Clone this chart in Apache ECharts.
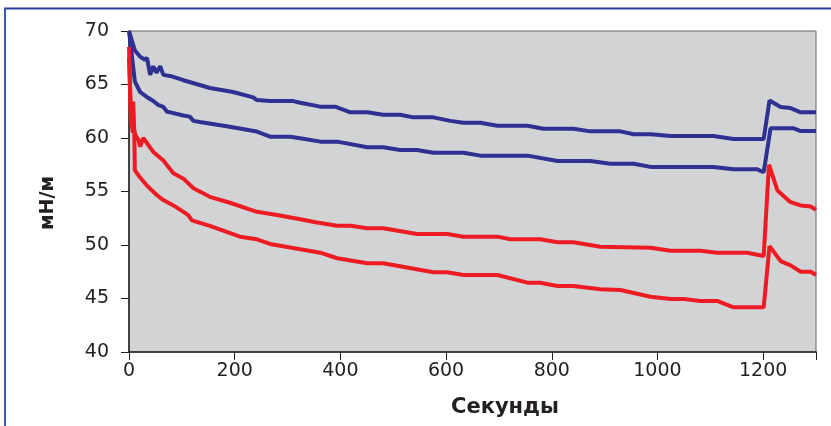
<!DOCTYPE html>
<html><head><meta charset="utf-8">
<script src="https://cdn.jsdelivr.net/npm/echarts@6/dist/echarts.min.js"></script>
<style>html,body{margin:0;padding:0;background:#fff}#c{width:831px;height:426px}</style>
</head><body><div id="c"></div>
<script>
const xTicks = [0, 200, 400, 600, 800, 1000, 1200];
const yTicks = [40, 45, 50, 55, 60, 65, 70];
const xTitle = 'Секунды';
const yTitle = 'мН/м';

const blueUpper = [[0,70],[11,68.2],[21,67.6],[30,67.3],[34,67.5],[40,65.9],[46,66.7],[52,66.1],[59,66.7],[65,65.9],[78,65.8],[103,65.4],[134,64.95],[153,64.67],[197,64.3],[235,63.8],[242,63.55],[267,63.45],[311,63.45],[324,63.3],[362,62.93],[390,62.93],[419,62.4],[451,62.4],[481,62.18],[513,62.18],[538,61.93],[576,61.93],[608,61.6],[633,61.43],[665,61.43],[697,61.15],[754,61.15],[784,60.87],[841,60.87],[873,60.62],[930,60.62],[955,60.35],[987,60.35],[1025,60.19],[1106,60.19],[1144,59.9],[1201,59.9],[1212,63.5],[1233,62.9],[1252,62.8],[1271,62.4],[1300,62.4]];

const blueLower = [[0,70],[11,65.3],[21,64.3],[33,63.86],[46,63.46],[55,63.1],[65,62.9],[72,62.46],[78,62.4],[103,62.1],[115,62.0],[122,61.6],[134,61.5],[185,61.1],[242,60.6],[267,60.12],[305,60.12],[324,59.97],[362,59.66],[394,59.66],[451,59.13],[481,59.13],[513,58.88],[545,58.88],[576,58.63],[633,58.63],[665,58.35],[754,58.35],[811,57.85],[873,57.85],[911,57.6],[955,57.6],[987,57.3],[1106,57.3],[1144,57.07],[1189,57.07],[1201,56.8],[1214,60.9],[1258,60.9],[1271,60.65],[1300,60.65]];

const redUpper = [[0,68.5],[3,62.3],[5,61],[8,63.4],[10,60.6],[13,60.2],[18,59.8],[21,59.2],[27,60.0],[46,58.7],[65,57.9],[84,56.7],[103,56.2],[122,55.3],[153,54.5],[191,53.95],[242,53.1],[280,52.8],[324,52.4],[356,52.1],[394,51.8],[419,51.8],[451,51.56],[481,51.56],[545,51.03],[602,51.03],[633,50.78],[697,50.78],[722,50.53],[778,50.53],[811,50.25],[841,50.25],[892,49.84],[987,49.75],[1025,49.47],[1081,49.47],[1113,49.28],[1170,49.28],[1201,48.97],[1211,57.5],[1227,55.1],[1252,54.0],[1271,53.7],[1290,53.6],[1300,53.3]];

const redLower = [[0,67.5],[4,62],[7,60.5],[10,60.8],[11,57],[18,56.5],[33,55.6],[52,54.7],[65,54.2],[84,53.7],[103,53.1],[112,52.8],[119,52.3],[153,51.78],[210,50.78],[242,50.53],[267,50.1],[324,49.6],[362,49.28],[394,48.76],[451,48.29],[481,48.29],[576,47.45],[602,47.45],[633,47.2],[697,47.2],[754,46.48],[778,46.48],[811,46.17],[841,46.17],[892,45.86],[930,45.8],[987,45.17],[1025,44.95],[1050,44.95],[1081,44.77],[1113,44.77],[1144,44.18],[1201,44.18],[1212,49.9],[1233,48.5],[1252,48.1],[1271,47.5],[1290,47.5],[1300,47.2]];

const BLUE = '#2e3192', RED = '#ed1c24';
const chart = echarts.init(document.getElementById('c'));
function line(d, c){ return {type:'line', data:d, symbol:'none', lineStyle:{color:c,width:4}, animation:false, z:3}; }
chart.setOption({
  animation:false,
  grid:{left:129, top:31, right:15, bottom:74, show:true, backgroundColor:'#d1d3d4', borderColor:'#666', borderWidth:1},
  xAxis:{type:'value', min:0, max:1300, interval:200,
    axisLine:{show:true, onZero:false, lineStyle:{color:'#231f20', width:1.5}},
    axisTick:{show:true, length:8, lineStyle:{color:'#231f20', width:1}},
    splitLine:{show:false},
    axisLabel:{margin:10, fontFamily:'DejaVu Sans', fontSize:19, color:'#231f20',
      formatter:v => xTicks.includes(v) ? String(v) : ''}},
  yAxis:{type:'value', min:40, max:70, interval:5,
    axisLine:{show:true, onZero:false, lineStyle:{color:'#231f20', width:1.5}},
    axisTick:{show:true, length:8, lineStyle:{color:'#231f20', width:1}},
    splitLine:{show:false},
    axisLabel:{margin:20, fontFamily:'DejaVu Sans', fontSize:19, color:'#231f20',
      formatter:v => yTicks.includes(v) ? String(v) : ''}},
  graphic:[
    {type:'line', shape:{x1:4, y1:8.5, x2:831, y2:8.5}, style:{stroke:'#2b3a94', lineWidth:2}, z:10},
    {type:'line', shape:{x1:5, y1:8, x2:5, y2:426}, style:{stroke:'#3a58b4', lineWidth:2}, z:10},
    {type:'text', x:505, y:408, style:{text:xTitle, font:'bold 21px "DejaVu Sans"', fill:'#231f20', align:'center', verticalAlign:'middle'}},
    {type:'text', x:48, y:203, rotation:Math.PI/2, style:{text:yTitle, font:'bold 19px "DejaVu Sans"', fill:'#231f20', align:'center', verticalAlign:'middle'}}
  ],
  series:[line(blueUpper,BLUE), line(blueLower,BLUE), line(redUpper,RED), line(redLower,RED)]
});
</script></body></html>
